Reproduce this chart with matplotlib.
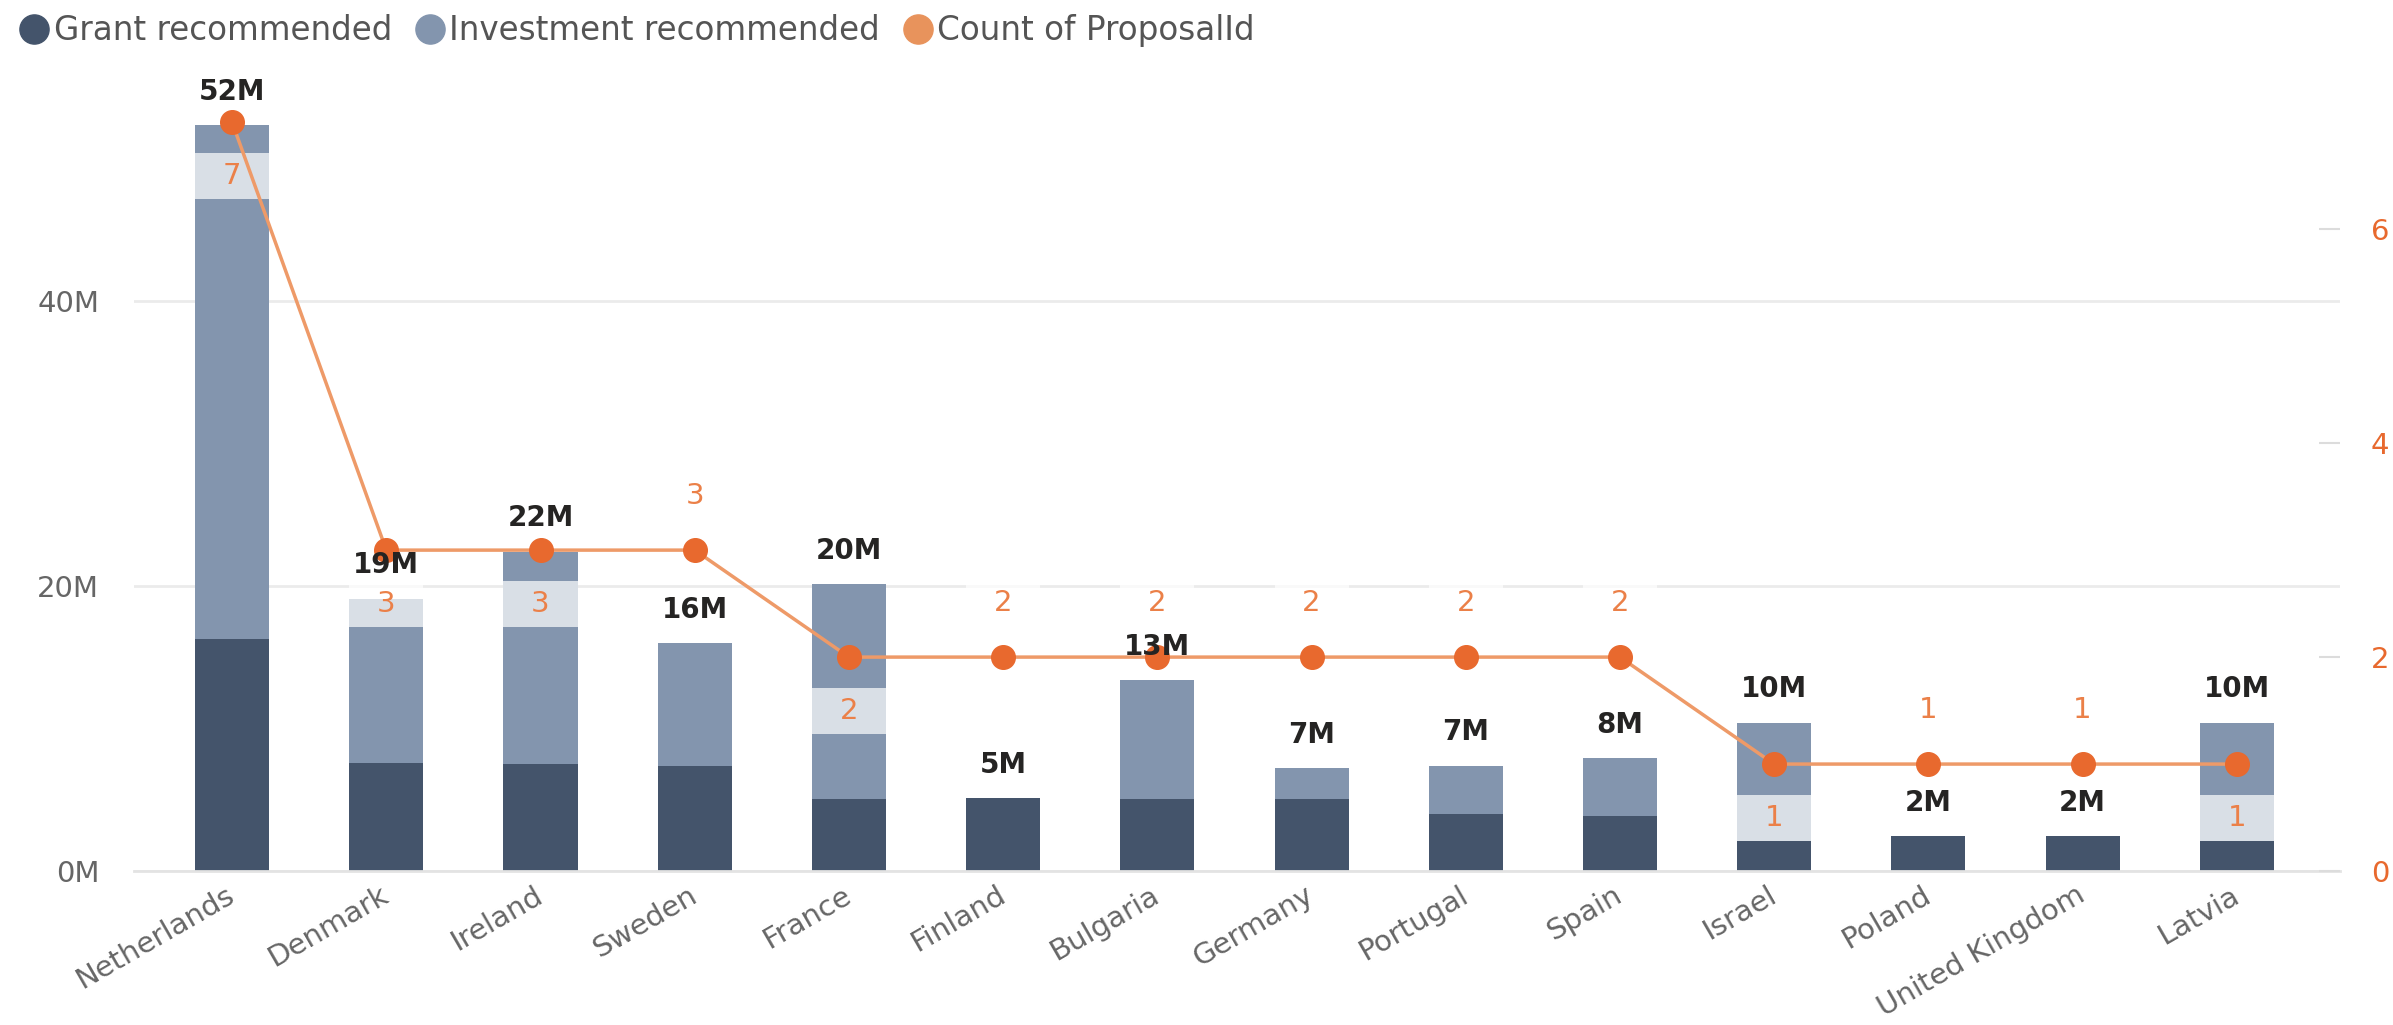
import matplotlib
matplotlib.use("Agg")
import matplotlib.pyplot as plt
from matplotlib.lines import Line2D
from matplotlib.patches import Rectangle
import numpy as np

# ---------------- data ----------------
countries = ["Netherlands", "Denmark", "Ireland", "Sweden", "France", "Finland",
             "Bulgaria", "Germany", "Portugal", "Spain", "Israel", "Poland",
             "United Kingdom", "Latvia"]
grant_m = [16.3, 7.6, 7.5, 7.4, 5.05, 5.1, 5.05, 5.05, 4.0, 3.85, 2.1, 2.45, 2.45, 2.1]
investment_m = [36.0, 11.5, 14.9, 8.6, 15.05, 0.0, 8.35, 2.15, 3.4, 4.05, 8.3, 0.0, 0.0, 8.3]
proposal_count = [7, 3, 3, 3, 2, 2, 2, 2, 2, 2, 1, 1, 1, 1]
count_label_below = [True, True, True, False, True, False, False, False, False, False,
                     True, False, False, True]
left_ticks_m = [0, 20, 40]
right_ticks = [0, 2, 4, 6]

# ---------------- style ----------------
C_GRANT = "#44546b"
C_INV = "#8395ae"
C_ORANGE = "#e8692e"
C_LINE = "#ee9a68"
C_COUNT_TXT = "#eb8048"
C_TICK = "#666666"
C_GRID = "#ebebeb"
FONT = "DejaVu Sans"
plt.rcParams["font.family"] = FONT

fig = plt.figure(figsize=(23.93, 10.25), dpi=100)
ax = fig.add_axes([0.056, 0.1502, 0.9219, 0.765])
ax2 = ax.twinx()

x = np.arange(len(countries))
grant = np.array(grant_m) * 1e6
inv = np.array(investment_m) * 1e6
total = grant + inv
bw = 0.48

ax.bar(x, grant, bw, color=C_GRANT, zorder=2)
ax.bar(x, inv, bw, bottom=grant, color=C_INV, zorder=2)

ax.set_xlim(-0.636, 13.67)
ax.set_ylim(0, 55e6)
ax2.set_ylim(0, 7.33)

ax.set_yticks([v * 1e6 for v in left_ticks_m])
ax.set_yticklabels([f"{v}M" for v in left_ticks_m])
ax.grid(axis="y", color=C_GRID, linewidth=2, zorder=0)
ax.set_axisbelow(True)
ax.tick_params(axis="y", length=0, pad=25, labelsize=21, labelcolor=C_TICK)
ax.set_xticks(x)
ax.set_xticklabels(countries, rotation=30, ha="right", va="center",
                   rotation_mode="anchor")
ax.tick_params(axis="x", length=0, pad=16, labelsize=21, labelcolor=C_TICK)
for s in ["top", "right", "left"]:
    ax.spines[s].set_visible(False)
ax.spines["bottom"].set_color("#e3e3e3")
ax.spines["bottom"].set_linewidth(2)

ax2.set_yticks(right_ticks)
ax2.set_yticklabels([str(v) for v in right_ticks])
ax2.tick_params(axis="y", direction="in", length=15, width=1.5, color="#dcdcdc",
                pad=22, labelsize=21, labelcolor=C_ORANGE)
for s in ["top", "right", "left", "bottom"]:
    ax2.spines[s].set_visible(False)

# label background boxes (semi-transparent white, bar-wide)
off_units = 0.505
box_h = 0.43
for i, (c, below) in enumerate(zip(proposal_count, count_label_below)):
    yc = c - off_units if below else c + off_units
    ax2.add_patch(Rectangle((i - bw / 2, yc - box_h / 2), bw, box_h,
                            facecolor="white", alpha=0.7, edgecolor="none", zorder=1))

# line + markers
ax2.plot(x, proposal_count, color=C_LINE, linewidth=2.5, zorder=2)
ax2.plot(x, proposal_count, linestyle="none", marker="o", markersize=17,
         color=C_ORANGE, zorder=3)

# total labels
for i, t in enumerate(total):
    ax2.annotate(f"{t / 1e6:.0f}M", xy=(i, t), xycoords=ax.transData,
                 xytext=(0, 24), textcoords="offset points", ha="center",
                 va="center", fontsize=20, fontweight="bold", color="#252423",
                 zorder=4)

# count labels
for i, (c, below) in enumerate(zip(proposal_count, count_label_below)):
    dy = -39 if below else 39
    ax2.annotate(str(c), xy=(i, c), xytext=(0, dy), textcoords="offset points",
                 ha="center", va="center", fontsize=21, color=C_COUNT_TXT, zorder=5)

# legend
handles = [
    Line2D([], [], linestyle="none", marker="o", markersize=21, color=C_GRANT),
    Line2D([], [], linestyle="none", marker="o", markersize=21, color=C_INV),
    Line2D([], [], linestyle="none", marker="o", markersize=21, color="#e8935c"),
]
fig.legend(handles, ["Grant recommended", "Investment recommended", "Count of ProposalId"],
           loc="upper left", bbox_to_anchor=(0.0, 1.005), ncol=3, frameon=False,
           handlelength=0.9, handletextpad=0.15, columnspacing=0.7, borderaxespad=0.2,
           fontsize=23.5, labelcolor="#555555")

fig.savefig("out.png", dpi=100, facecolor="white")
